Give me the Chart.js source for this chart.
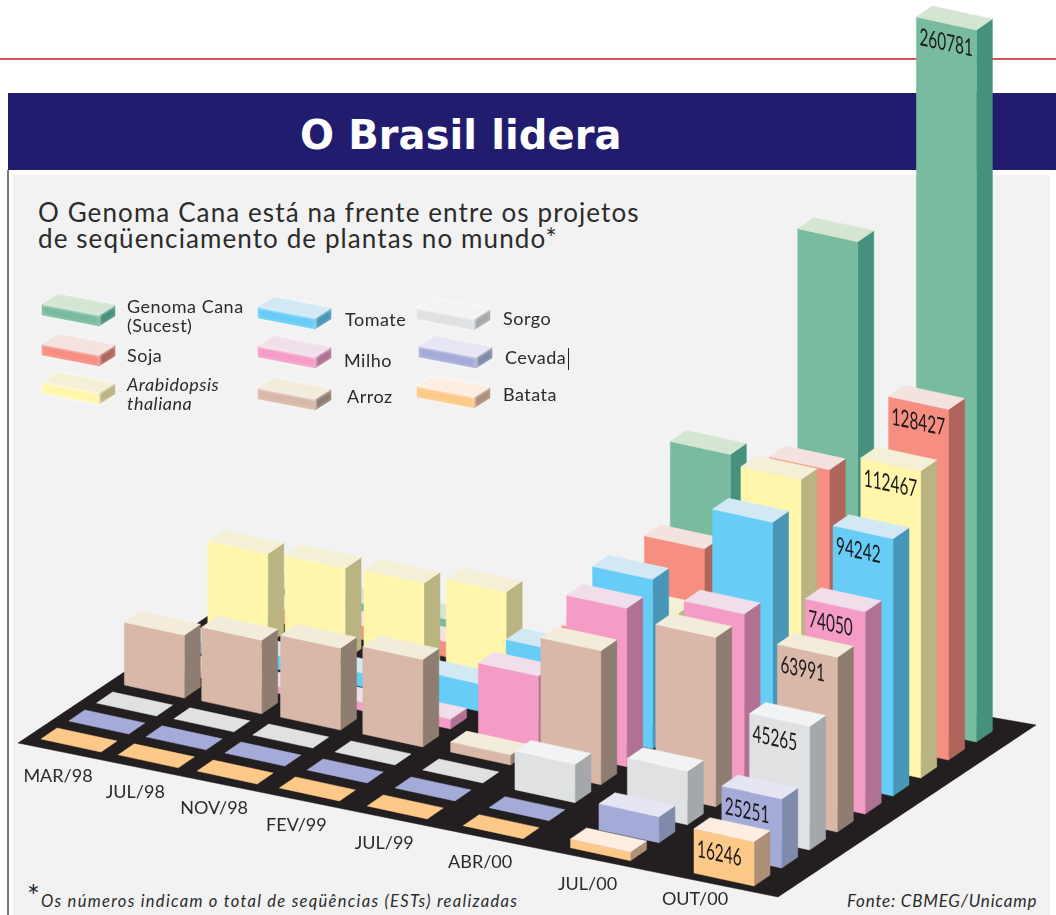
<!DOCTYPE html>
<html lang="pt">
<head>
<meta charset="utf-8">
<title>O Brasil lidera</title>
<script src="https://cdn.jsdelivr.net/npm/chart.js@4"></script>
<style>
  html, body { margin: 0; padding: 0; background: #fff; }
  #page { position: relative; width: 1056px; height: 915px; overflow: hidden; font-family: Lato, sans-serif; color: #2b2b2b; }
  #page div { position: absolute; white-space: nowrap; }
  #redline { left: 0; top: 58px; width: 1056px; height: 2px; background: #d8555f; }
  #banner { left: 8px; top: 93px; width: 1048px; height: 77px; background: #211c6e; }
  #frame { left: 7px; top: 170px; width: 1047px; height: 745px; border-left: 2px solid #777; border-right: 1px solid #999; background: #fff; }
  #panel { left: 13px; top: 175px; width: 1037px; height: 740px; background: #f2f2f2; }
  #title { left: 300px; top: 112px; font: bold 40px "DejaVu Sans", sans-serif; color: #fff; letter-spacing: 0.1px; }
  #sub1, #sub2 { left: 38px; font-size: 26px; letter-spacing: 1.1px; line-height: 28px; }
  #sub1 { top: 198px; } #sub2 { top: 224px; }
  #note { left: 27px; top: 890px; font-style: italic; font-size: 16.5px; letter-spacing: 1.3px; }
  #note span { font-style: normal; font-size: 30px; line-height: 10px; }
  #source { left: 847px; top: 890px; font-style: italic; font-size: 17px; letter-spacing: 0.8px; }
  canvas { position: absolute; left: 0; top: 0; }
</style>
</head>
<body>
<div id="page">
  <div id="redline"></div>
  <div id="frame"></div>
  <div id="panel"></div>
  <div id="banner"></div>
  <div id="title">O Brasil lidera</div>
  <div id="sub1">O Genoma Cana está na frente entre os projetos</div>
  <div id="sub2">de seqüenciamento de plantas no mundo*</div>
  <div id="note"><span>*</span>Os números indicam o total de seqüências (ESTs) realizadas</div>
  <div id="source">Fonte: CBMEG/Unicamp</div>
  <canvas id="chart" width="1056" height="915"></canvas>
</div>
<script>
const months = ['MAR/98', 'JUL/98', 'NOV/98', 'FEV/99', 'JUL/99', 'ABR/00', 'JUL/00', 'OUT/00'];
const seriesNames = ['Genoma Cana', 'Soja', 'Arabidopsis', 'Tomate', 'Milho', 'Arroz', 'Sorgo', 'Cevada', 'Batata'];

// back row first
const cana = [4000, 4500, 5000, 1500, 25000, 88000, 174000, 260781];
const soja = [5000, 5000, 5500, 6000, 20000, 60000, 97000, 128427];
const arabidopsis = [33000, 33500, 34000, 37000, 18000, 43000, 100000, 112467];
const tomate = [4000, 5000, 5000, 10000, 28000, 62000, 91000, 94242];
const milho = [2500, 2500, 3000, 3500, 26000, 58000, 64000, 74050];
const arroz = [23000, 27000, 30000, 32000, 3600, 49000, 62000, 63991];
const sorgo = [0, 0, 0, 0, 0, 14000, 19500, 45265];
const cevada = [0, 0, 0, 0, 0, 0, 9500, 25251];
const batata = [0, 0, 0, 0, 0, 0, 3200, 16246];
const seriesValues = [cana, soja, arabidopsis, tomate, milho, arroz, sorgo, cevada, batata];

// front, top, side
const palette = [
  ['#79bb9f', '#d4e5d2', '#46917d'],
  ['#f68e82', '#f3e2de', '#b0655c'],
  ['#fff6ac', '#f4f0d7', '#b9b482'],
  ['#67cdf7', '#d2e8f4', '#4896b8'],
  ['#f59cc6', '#f0dfea', '#b17192'],
  ['#d9b8a9', '#f3ecdb', '#8f7d71'],
  ['#dfe1e3', '#f2f3f4', '#a5a8ab'],
  ['#a5abd9', '#e6e5f3', '#808aab'],
  ['#fdc988', '#feeee2', '#ae8f78']
];

// picture geometry
const barFront = { x: 60, y: 13 };
const barDepth = { x: 16, y: -11 };
const rowStep = { x: 27.8, y: -18 };
const columnLean = [0, 0, 0, 0, 0, -1.9, 0.6, 0]; // the drawing is not a clean projection
const floorDrop = 134;
const monthPull = 1.21;
const monthPullGrow = 0.22;
const floorCorners = [[18, 743], [778, 897], [1036, 725], [250, 588]];
const monthLabelNudge = [[0, 0], [0, 0], [0, 0], [0, 0], [0, 0], [0, 0], [0, 0], [-16, -11]];
const legendFront = { x: 57, y: 11 };
const legendDepth = { x: 16, y: -10 };
const legendSpots = [
  { x: 42, y: 315, tx: 127, ty: 307, lines: ['Genoma Cana', '(Sucest)'] },
  { x: 42, y: 355, tx: 127, ty: 356, lines: ['Soja'] },
  { x: 42, y: 393, tx: 127, ty: 385, lines: ['Arabidopsis', 'thaliana'], italic: true },
  { x: 258, y: 318, tx: 345, ty: 320, lines: ['Tomate'] },
  { x: 258, y: 357, tx: 344, ty: 361, lines: ['Milho'] },
  { x: 258, y: 399, tx: 347, ty: 397, lines: ['Arroz'] },
  { x: 417, y: 319, tx: 503, ty: 319, lines: ['Sorgo'] },
  { x: 419, y: 357, tx: 505, ty: 358, lines: ['Cevada'] },
  { x: 417, y: 397, tx: 503, ty: 395, lines: ['Batata'] }
];

// month axis is foreshortened towards MAR/98
function monthBase(chart, i) {
  const xs = chart.scales.x, ys = chart.scales.y;
  const u = (xs.getPixelForValue(i) - xs.left) / xs.width;
  const f = u / (u + (monthPull + monthPullGrow * u) * (1 - u));
  return { x: xs.left + xs.width * f, y: ys.bottom - floorDrop * (1 - f) };
}

function poly(ctx, color, pts) {
  ctx.fillStyle = color;
  ctx.strokeStyle = color;
  ctx.lineWidth = 0.5;
  ctx.beginPath();
  pts.forEach((p, i) => i ? ctx.lineTo(p[0], p[1]) : ctx.moveTo(p[0], p[1]));
  ctx.closePath();
  ctx.fill();
  ctx.stroke();
}

function drawBox(ctx, x, y, h, colors, f, d) {
  const t = y - h;
  if (h <= 0) {
    poly(ctx, colors[0], [[x, y], [x + f.x, y + f.y], [x + f.x + d.x, y + f.y + d.y], [x + d.x, y + d.y]]);
    return;
  }
  poly(ctx, colors[2], [[x + f.x, y + f.y], [x + f.x + d.x, y + f.y + d.y], [x + f.x + d.x, t + f.y + d.y], [x + f.x, t + f.y]]);
  poly(ctx, colors[0], [[x, y], [x + f.x, y + f.y], [x + f.x, t + f.y], [x, t]]);
  poly(ctx, colors[1], [[x, t], [x + f.x, t + f.y], [x + f.x + d.x, t + f.y + d.y], [x + d.x, t + d.y]]);
}

class Box3dController extends Chart.BarController {
  draw() {
    const chart = this.chart, ctx = chart.ctx, ys = chart.scales.y;
    const colors = palette[this.index];
    const row = seriesNames.length - 1 - this.index;
    const last = months.length - 1;
    months.forEach((m, i) => {
      const v = this.getParsed(i).y;
      const base = monthBase(chart, i);
      const x = base.x + row * (rowStep.x + columnLean[i]), y = base.y + row * rowStep.y;
      const h = ys.bottom - ys.getPixelForValue(v);
      drawBox(ctx, x, y, h, colors, barFront, barDepth);
      if (i === last) {
        const sx = 0.64;
        ctx.save();
        ctx.setTransform(sx, 0.21 * sx, 0, 1, x + 3, y - h + 28);
        ctx.font = '24px Lato, sans-serif';
        ctx.fillStyle = '#1a1a1a';
        ctx.textAlign = 'left';
        ctx.textBaseline = 'alphabetic';
        ctx.fillText(String(v), 0, 0);
        ctx.restore();
      }
    });
  }
}
Box3dController.id = 'box3d';
Chart.register(Box3dController);

const floorAndLegend = {
  id: 'floorAndLegend',
  beforeDatasetsDraw(chart) {
    const ctx = chart.ctx;
    poly(ctx, '#231f20', floorCorners);

    ctx.textBaseline = 'middle';
    months.forEach((m, i) => {
      const b = monthBase(chart, i);
      ctx.font = '18px Lato, sans-serif';
      ctx.textAlign = 'center';
      ctx.fillStyle = '#2b2b2b';
      ctx.fillText(m, b.x + 17 + monthLabelNudge[i][0], b.y + 37 + monthLabelNudge[i][1]);
    });

    legendSpots.forEach((s, i) => {
      ctx.save();
      ctx.shadowColor = '#fff';
      ctx.shadowBlur = 3;
      drawBox(ctx, s.x, s.y, 11, palette[i], legendFront, legendDepth);
      ctx.restore();
      ctx.font = (s.italic ? 'italic ' : '') + '18px Lato, sans-serif';
      ctx.letterSpacing = '0.5px';
      ctx.textAlign = 'left';
      ctx.fillStyle = '#2b2b2b';
      s.lines.forEach((line, k) => ctx.fillText(line, s.tx, s.ty + k * 19));
      ctx.letterSpacing = '0px';
    });
    ctx.fillStyle = '#222';
    ctx.fillRect(568, 348, 1, 22);
  }
};

new Chart(document.getElementById('chart'), {
  type: 'box3d',
  data: {
    labels: months,
    datasets: seriesNames.map((name, i) => ({
      label: name,
      data: seriesValues[i],
      order: seriesNames.length - 1 - i,
      clip: false
    }))
  },
  options: {
    responsive: false,
    animation: false,
    layout: { padding: { left: 41, right: 362, top: 54, bottom: 42 } },
    plugins: { legend: { display: false }, title: { display: false }, tooltip: { enabled: false } },
    scales: {
      x: { type: 'category', offset: false, display: false },
      y: { type: 'linear', min: 0, max: 300000, display: false }
    }
  },
  plugins: [floorAndLegend]
});
</script>
</body>
</html>
